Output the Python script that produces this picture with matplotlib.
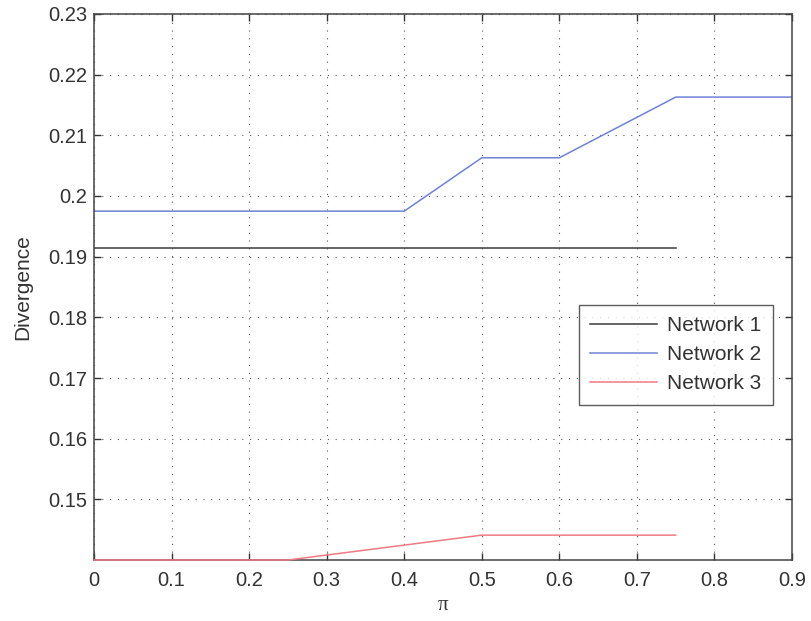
import matplotlib
matplotlib.use("Agg")
import matplotlib.pyplot as plt

# Data
x1 = [0.0, 0.75]
y1 = [0.1915, 0.1915]
x2 = [0.0, 0.4, 0.5, 0.6, 0.75, 0.9]
y2 = [0.1975, 0.1975, 0.2063, 0.2063, 0.2163, 0.2163]
x3 = [0.0, 0.25, 0.5, 0.75]
y3 = [0.1400, 0.1400, 0.1441, 0.1441]
labels = ["Network 1", "Network 2", "Network 3"]
xticks = [0, 0.1, 0.2, 0.3, 0.4, 0.5, 0.6, 0.7, 0.8, 0.9]
yticks = [0.15, 0.16, 0.17, 0.18, 0.19, 0.2, 0.21, 0.22, 0.23]
ytick_labels = ["0.15", "0.16", "0.17", "0.18", "0.19", "0.2", "0.21", "0.22", "0.23"]

plt.rcParams['font.family'] = ['Liberation Sans', 'DejaVu Sans']

fig = plt.figure(figsize=(8.12, 6.21), dpi=100)
ax = fig.add_axes([0.1158, 0.0982, 0.8596, 0.8793])

ax.plot(x1, y1, color='#3a3a3a', lw=1.1, label=labels[0])
ax.plot(x2, y2, color='#6f82d6', lw=1.1, label=labels[1])
ax.plot(x3, y3, color='#f07a84', lw=1.1, label=labels[2], clip_on=False, zorder=5)

ax.set_xlim(0, 0.9)
ax.set_ylim(0.14, 0.23)
ax.set_xticks(xticks)
ax.set_xticklabels([("%g" % t) for t in xticks])
ax.set_yticks(yticks)
ax.set_yticklabels(ytick_labels)

ax.grid(True, linestyle=(0, (1, 6)), color='#555555', lw=0.8)
ax.tick_params(direction='in', length=5, width=1, top=True, right=True,
               labelsize=14.5, colors='#333333')
ax.tick_params(axis='x', pad=8)
ax.tick_params(axis='y', pad=5)
for s in ax.spines.values():
    s.set_color('#444444')
    s.set_linewidth(1.1)

ax.set_xlabel("π", family=['Liberation Serif', 'DejaVu Serif'], fontsize=15, color='#333333', labelpad=4)
ax.set_ylabel("Divergence", fontsize=15, color='#333333')
ax.yaxis.set_label_coords(-0.088, 0.5)

leg = ax.legend(loc='upper right', bbox_to_anchor=(0.973, 0.467), borderaxespad=0,
                fontsize=15, frameon=True, fancybox=False, edgecolor='#333333',
                handlelength=3.2, borderpad=0.55, labelspacing=0.48, handletextpad=0.5)
leg.get_frame().set_linewidth(1.0)
for t in leg.get_texts():
    t.set_color('#333333')

fig.savefig("out.png", dpi=100)
